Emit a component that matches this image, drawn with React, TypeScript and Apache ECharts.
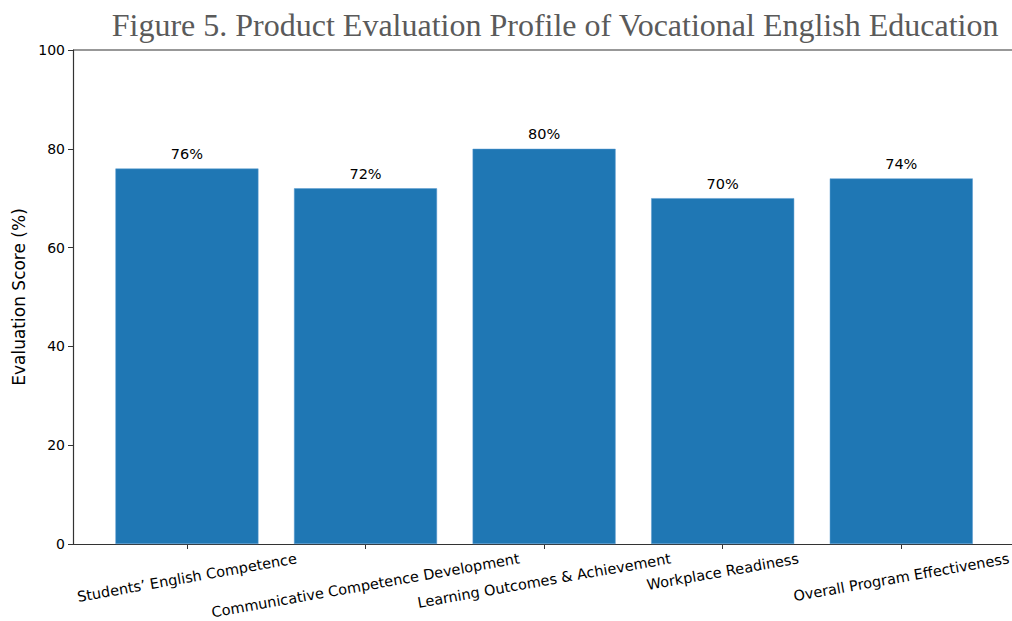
import React, { useEffect, useRef } from "react";
import * as echarts from "echarts";

const categories = [
  "Students\u2019 English Competence",
  "Communicative Competence Development",
  "Learning Outcomes & Achievement",
  "Workplace Readiness",
  "Overall Program Effectiveness",
];
const scores = [76, 72, 80, 70, 74];
const yTicks = [0, 20, 40, 60, 80, 100];
const titleText = "Figure 5. Product Evaluation Profile of Vocational English Education";
const yAxisTitle = "Evaluation Score (%)";

export default function App() {
  const ref = useRef<HTMLDivElement>(null);
  useEffect(() => {
    document.body.style.margin = "0";
    const chart = echarts.init(ref.current!, null, { renderer: "svg" });
    const font = "'DejaVu Sans', sans-serif";
    const labelSize = 14.5;
    const rot = 10;
    const rad = (rot * Math.PI) / 180;
    const ctx = document.createElement("canvas").getContext("2d")!;
    ctx.font = `${labelSize}px 'DejaVu Sans'`;

    chart.setOption({
      animation: false,
      backgroundColor: "#ffffff",
      title: {
        text: titleText,
        right: 8,
        top: 4,
        textStyle: {
          fontFamily: "'Liberation Serif', serif",
          fontWeight: "normal",
          fontSize: 32,
          color: "#5a5a5a",
        },
      },
      grid: { left: 73, top: 50, right: 0, bottom: 77, containLabel: false },
      xAxis: {
        type: "value",
        min: -0.638,
        max: 4.62,
        splitLine: { show: false },
        axisLine: { show: true, onZero: false, lineStyle: { color: "#333", width: 1.2 } },
        axisTick: {
          show: true,
          customValues: [0, 1, 2, 3, 4],
          length: 5,
          lineStyle: { color: "#333" },
        },
        axisLabel: { show: false },
      },
      yAxis: {
        type: "value",
        min: 0,
        max: 100,
        interval: 20,
        name: yAxisTitle,
        nameLocation: "middle",
        nameGap: 46,
        nameTextStyle: { fontFamily: font, fontSize: 17, color: "#000" },
        splitLine: { show: false },
        axisLine: { show: true, onZero: false, lineStyle: { color: "#333", width: 1.2 } },
        axisTick: { show: true, length: 5, lineStyle: { color: "#333" } },
        axisLabel: {
          formatter: (v: number) => (yTicks.includes(v) ? String(v) : ""),
          fontFamily: font,
          fontSize: 14,
          color: "#000",
          margin: 8,
        },
      },
      series: [
        {
          type: "bar",
          data: scores.map((v, i) => [i, v]),
          barWidth: 143,
          itemStyle: { color: "#1f77b4", borderColor: "#5a9bd0", borderWidth: 0.5 },
          label: {
            show: true,
            position: "top",
            distance: 7,
            formatter: (p: any) => `${p.value[1]}%`,
            fontFamily: font,
            fontSize: 14.5,
            color: "#000",
          },
        },
      ],
    });

    // matplotlib-style tick labels: rotated about their centre, hanging from a common top line
    const topLeft = chart.convertToPixel({ gridIndex: 0 }, [-0.638, 100]) as number[];
    const graphics: any[] = [
      {
        type: "line",
        shape: { x1: topLeft[0], y1: topLeft[1], x2: 1012, y2: topLeft[1] },
        style: { stroke: "#333", lineWidth: 1.2 },
        z: 10,
      },
    ];
    categories.forEach((c, i) => {
      const [px, py] = chart.convertToPixel({ gridIndex: 0 }, [i, 0]) as number[];
      const w = ctx.measureText(c).width;
      const h = labelSize * 1.17;
      const top = py + 6;
      const cy = top + (w / 2) * Math.sin(rad) + (h / 2) * Math.cos(rad);
      graphics.push({
        type: "text",
        x: px,
        y: cy,
        rotation: rad,
        style: {
          text: c,
          fontFamily: font,
          fontSize: labelSize,
          fill: "#000",
          align: "center",
          verticalAlign: "middle",
        },
      });
    });
    chart.setOption({ graphic: graphics });
    return () => chart.dispose();
  }, []);
  return <div ref={ref} style={{ width: 1012, height: 621 }} />;
}
